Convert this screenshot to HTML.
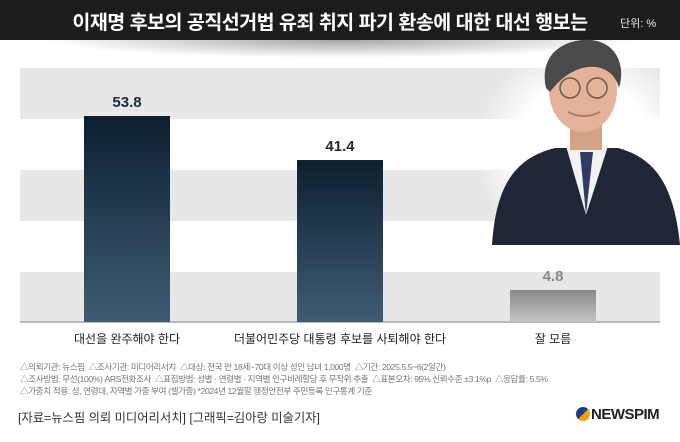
<!DOCTYPE html>
<html><head><meta charset="utf-8"><style>
body{margin:0;width:680px;height:442px;background:#fff;overflow:hidden;position:relative;font-family:"Liberation Sans","Noto Sans CJK KR",sans-serif}
.abs{position:absolute}
</style></head><body>
<div class="abs" style="left:0;top:0;width:680px;height:40px;background:#1c1c1c"></div>
<div class="abs" style="left:40px;top:40px;width:600px;height:18px;background:radial-gradient(ellipse at 50% 0%,rgba(0,0,0,.35),rgba(0,0,0,0) 70%)"></div>
<div class="abs" style="left:-10px;top:6px;width:680px;text-align:center;color:#fff;font-size:19.5px;font-weight:bold;letter-spacing:-0.5px">이재명 후보의 공직선거법 유죄 취지 파기 환송에 대한 대선 행보는</div>
<div class="abs" style="left:620px;top:15px;color:#eee;font-size:11px">단위: %</div>
<svg class="abs" style="left:0;top:0" width="680" height="442" id="chart"></svg>
<div class="abs" style="left:20px;top:361px;font-size:8.6px;color:#777;line-height:12px;letter-spacing:-0.4px">
△의뢰기관: 뉴스핌 &nbsp;△조사기관: 미디어리서치 &nbsp;△대상: 전국 만 18세~70대 이상 성인 남녀 1,000명 &nbsp;△기간: 2025.5.5~6(2일간)<br>
△조사방법: 무선(100%) ARS전화조사 &nbsp;△표집방법: 성별 · 연령별 · 지역별 인구비례할당 후 무작위 추출 &nbsp;△표본오차: 95% 신뢰수준 ±3.1%p &nbsp;△응답률: 5.5%<br>
△가중치 적용: 성, 연령대, 지역별 가중 부여 (셀가중) *2024년 12월말 행정안전부 주민등록 인구통계 기준</div>
<div class="abs" style="left:18px;top:408px;font-size:12.3px;color:#333">[자료=뉴스핌 의뢰 미디어리서치] [그래픽=김아랑 미술기자]</div>
<div class="abs" style="left:576px;top:406px;font-size:15px;font-weight:bold;color:#222;letter-spacing:-0.5px"><span style="display:inline-block;width:14px;height:14px;border-radius:50%;background:linear-gradient(135deg,#1a3c8c 50%,#f0a000 50%);vertical-align:-2px;margin-right:1px"></span>NEWSPIM</div>
<script>
const categories=["대선을 완주해야 한다","더불어민주당 대통령 후보를 사퇴해야 한다","잘 모름"];
const values=[53.8,41.4,4.8];
const valueLabels=["53.8","41.4","4.8"];
const NS="http://www.w3.org/2000/svg";
const svg=document.getElementById('chart');
const base=322, unit=3.55, off=15, x0=84, step=213, bw=86;
function y(v){return base-off-v*unit;}
function mk(t,a){const e=document.createElementNS(NS,t);for(const k in a)e.setAttribute(k,a[k]);svg.appendChild(e);return e;}
const defs=mk('defs',{});
defs.innerHTML='<linearGradient id="gn" x1="0" y1="0" x2="0" y2="1"><stop offset="0" stop-color="#0c1f30"/><stop offset="1" stop-color="#3f5c74"/></linearGradient><linearGradient id="gg" x1="0" y1="0" x2="0" y2="1"><stop offset="0" stop-color="#8a8a8a"/><stop offset="1" stop-color="#c4c4c4"/></linearGradient><radialGradient id="glow" cx="0.5" cy="0.5" r="0.5"><stop offset="0.6" stop-color="#fff"/><stop offset="1" stop-color="#fff" stop-opacity="0"/></radialGradient>';
const bandTops=[68,170,272];
bandTops.forEach((t,i)=>{const b=mk('rect',{x:20,y:t,width:640,height:51,fill:'#e7e7e7'});

});
const ax=mk('line',{x1:20,x2:660,y1:base,y2:base,stroke:'#888','stroke-width':1});


const ph=mk('g',{});


ph.innerHTML='<ellipse cx="585" cy="150" rx="110" ry="110" fill="url(#glow)"/><path d="M492,245 C496,185 515,158 555,148 L618,148 C655,158 674,185 680,245 Z" fill="#1f2636"/><path d="M566,146 L586,215 L608,146 Z" fill="#f2f2f2"/><path d="M580,152 L586,215 L593,152 Z" fill="#2e3c66"/><rect x="570" y="118" width="32" height="32" fill="#d6a286"/><ellipse cx="583" cy="90" rx="34" ry="42" fill="#e4b39a"/><path d="M546,88 C538,50 570,38 592,40 C620,44 625,70 619,88 C612,60 575,58 550,92 Z" fill="#4a4a4a"/><circle cx="570" cy="88" r="10" fill="none" stroke="#6a5a50" stroke-width="1.5"/><circle cx="597" cy="88" r="10" fill="none" stroke="#6a5a50" stroke-width="1.5"/><path d="M568,112 Q584,120 600,112" stroke="#b07a66" stroke-width="2" fill="none"/>';
categories.forEach((c,i)=>{
 const x=x0+i*step;
 const r=mk('rect',{x:x,y:y(values[i]),width:bw,height:base-y(values[i]),fill:i==2?'url(#gg)':'url(#gn)'});
 
 
 const t=mk('text',{x:x+bw/2,y:y(values[i])-9,'text-anchor':'middle','font-size':15,'font-weight':'bold',fill:i==2?'#888':'#1a2a3a'});
 t.textContent=valueLabels[i];
 
 
 const l=mk('text',{x:x+bw/2,y:343,'text-anchor':'middle','font-size':12,fill:'#222'});
 l.textContent=c;
 
 
});
</script>
</body></html>
